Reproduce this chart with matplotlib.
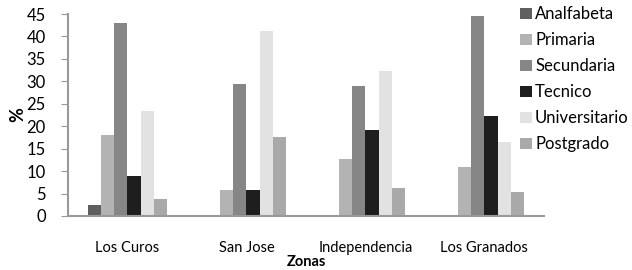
import numpy as np
import matplotlib.pyplot as plt
from matplotlib.patches import Patch

zonas = ["Los Curos", "San Jose", "Independencia", "Los Granados"]
niveles = ["Analfabeta", "Primaria", "Secundaria", "Tecnico", "Universitario", "Postgrado"]

analfabeta = [2.5, 0, 0, 0]
primaria = [18.0, 5.8, 12.7, 11.0]
secundaria = [43.0, 29.5, 29.0, 44.5]
tecnico = [9.0, 5.7, 19.2, 22.2]
universitario = [23.5, 41.3, 32.3, 16.5]
postgrado = [3.8, 17.5, 6.3, 5.4]

series = [analfabeta, primaria, secundaria, tecnico, universitario, postgrado]
colores = ["#5f5f5f", "#b3b3b3", "#868686", "#1e1e1e", "#e2e2e2", "#a9a9a9"]

plt.rcParams["font.family"] = ["Lato", "DejaVu Sans"]

fig = plt.figure(figsize=(6.32, 2.7), dpi=100)
ax = fig.add_axes([0.1076, 0.2, 0.753, 0.748])

x = np.arange(len(zonas))
ancho = 0.112
for i, (vals, col) in enumerate(zip(series, colores)):
    pos = x + (i - 2.5) * ancho
    ax.bar(pos, vals, width=ancho, color=col, edgecolor="none")

ax.set_xlim(-0.5, len(zonas) - 0.5)
ax.set_ylim(0, 45)
ax.set_yticks(range(0, 46, 5))
ax.set_xticks(x)
ax.set_xticklabels(zonas, fontsize=10.5)
ax.tick_params(axis="x", length=0, pad=18)
ax.tick_params(axis="y", labelsize=12, length=5, color="#999999", pad=11)

for s in ["top", "right"]:
    ax.spines[s].set_visible(False)
for s in ["left", "bottom"]:
    ax.spines[s].set_color("#999999")
    ax.spines[s].set_linewidth(1.5)

ax.set_ylabel("%", fontsize=13, fontweight="bold", labelpad=0)
ax.set_xlabel("Zonas", fontsize=10.5, fontweight="bold", labelpad=0)

handles = [Patch(facecolor=c, edgecolor="none") for c in colores]
fig.legend(handles, niveles, loc="upper left", bbox_to_anchor=(0.815, 0.995),
           frameon=False, fontsize=12, handlelength=0.7, handleheight=0.7,
           handletextpad=0.2, labelspacing=0.6, borderaxespad=0.2,
           borderpad=0.1)

fig.savefig("out.png", dpi=100)
